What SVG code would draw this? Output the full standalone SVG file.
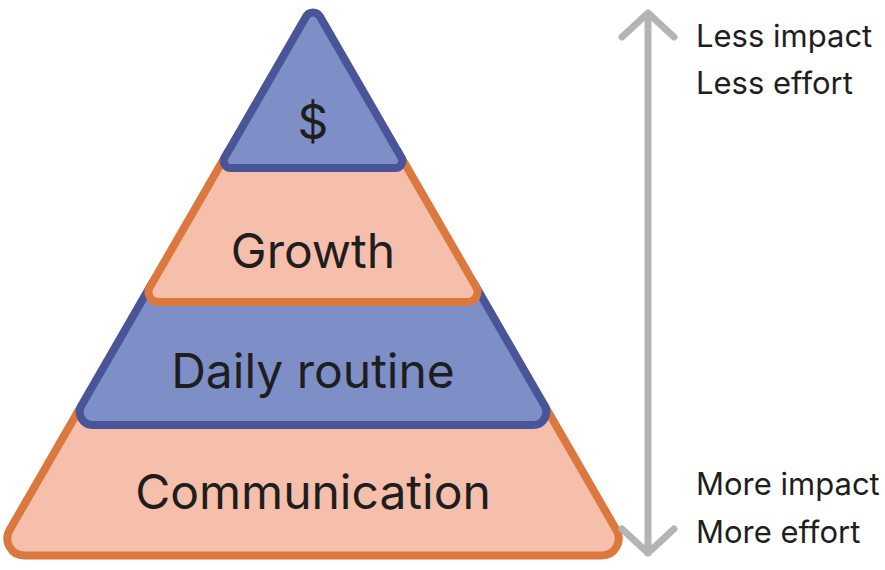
<svg xmlns="http://www.w3.org/2000/svg" width="885" height="570" viewBox="0 0 885 570">
  <defs>
    <style>
      .blue { fill: #7D8FC6; stroke: #4A5499; stroke-width: 8; stroke-linejoin: round; }
      .orange { fill: #F6BFAB; stroke: #DB783E; stroke-width: 8; stroke-linejoin: round; }
      .lbl { font-family: Inter, "Noto Sans", "Liberation Sans", sans-serif; font-size: 48px; fill: #1E1E1E; text-anchor: middle; }
      .side { font-family: Inter, "Noto Sans", "Liberation Sans", sans-serif; font-size: 31px; fill: #1E1E1E; }
      .arrow { fill: none; stroke: #B4B4B4; stroke-width: 7; stroke-linecap: round; stroke-linejoin: round; }
    </style>
  </defs>
  <rect width="885" height="570" fill="#FFFFFF"/>
  <g id="communication">
    <path class="orange" d="M84.06,405 L541.94,405 A4,4 0 0 1 545.41,407 L616.38,530 A17,17 0 0 1 601.66,555.5 L24.34,555.5 A17,17 0 0 1 9.62,530 L80.59,407 A4,4 0 0 1 84.06,405 Z"/>
    <text class="lbl" x="313" y="509">Communication</text>
  </g>
  <g id="daily-routine">
    <path class="blue" d="M155.06,282 L470.94,282 A4,4 0 0 1 474.41,284 L544.54,405.5 A13,13 0 0 1 533.28,425 L92.72,425 A13,13 0 0 1 81.46,405.5 L151.59,284 A4,4 0 0 1 155.06,282 Z"/>
    <text class="lbl" x="313" y="388">Daily routine</text>
  </g>
  <g id="growth">
    <path class="orange" d="M231.30,150 L394.70,150 A4,4 0 0 1 398.17,152 L476.14,287 A10,10 0 0 1 467.48,302 L158.52,302 A10,10 0 0 1 149.86,287 L227.83,152 A4,4 0 0 1 231.30,150 Z"/>
    <text class="lbl" x="313" y="268">Growth</text>
  </g>
  <g id="money">
    <path class="blue" d="M306.07,16.5 A8,8 0 0 1 319.93,16.5 L401.34,157.5 A7,7 0 0 1 395.28,168 L230.72,168 A7,7 0 0 1 224.66,157.5 Z"/>
    <text class="lbl" x="313" y="139">$</text>
  </g>
  <g id="connectors">
    <path class="arrow" d="M648,13 L648,553 M622,37 L648,13 L674,37 M622,529 L648,553 L674,529"/>
  </g>
  <g id="labels">
    <text class="side" x="696" y="47">Less impact</text>
    <text class="side" x="696" y="94">Less effort</text>
    <text class="side" x="696" y="495">More impact</text>
    <text class="side" x="696" y="543">More effort</text>
  </g>
</svg>
